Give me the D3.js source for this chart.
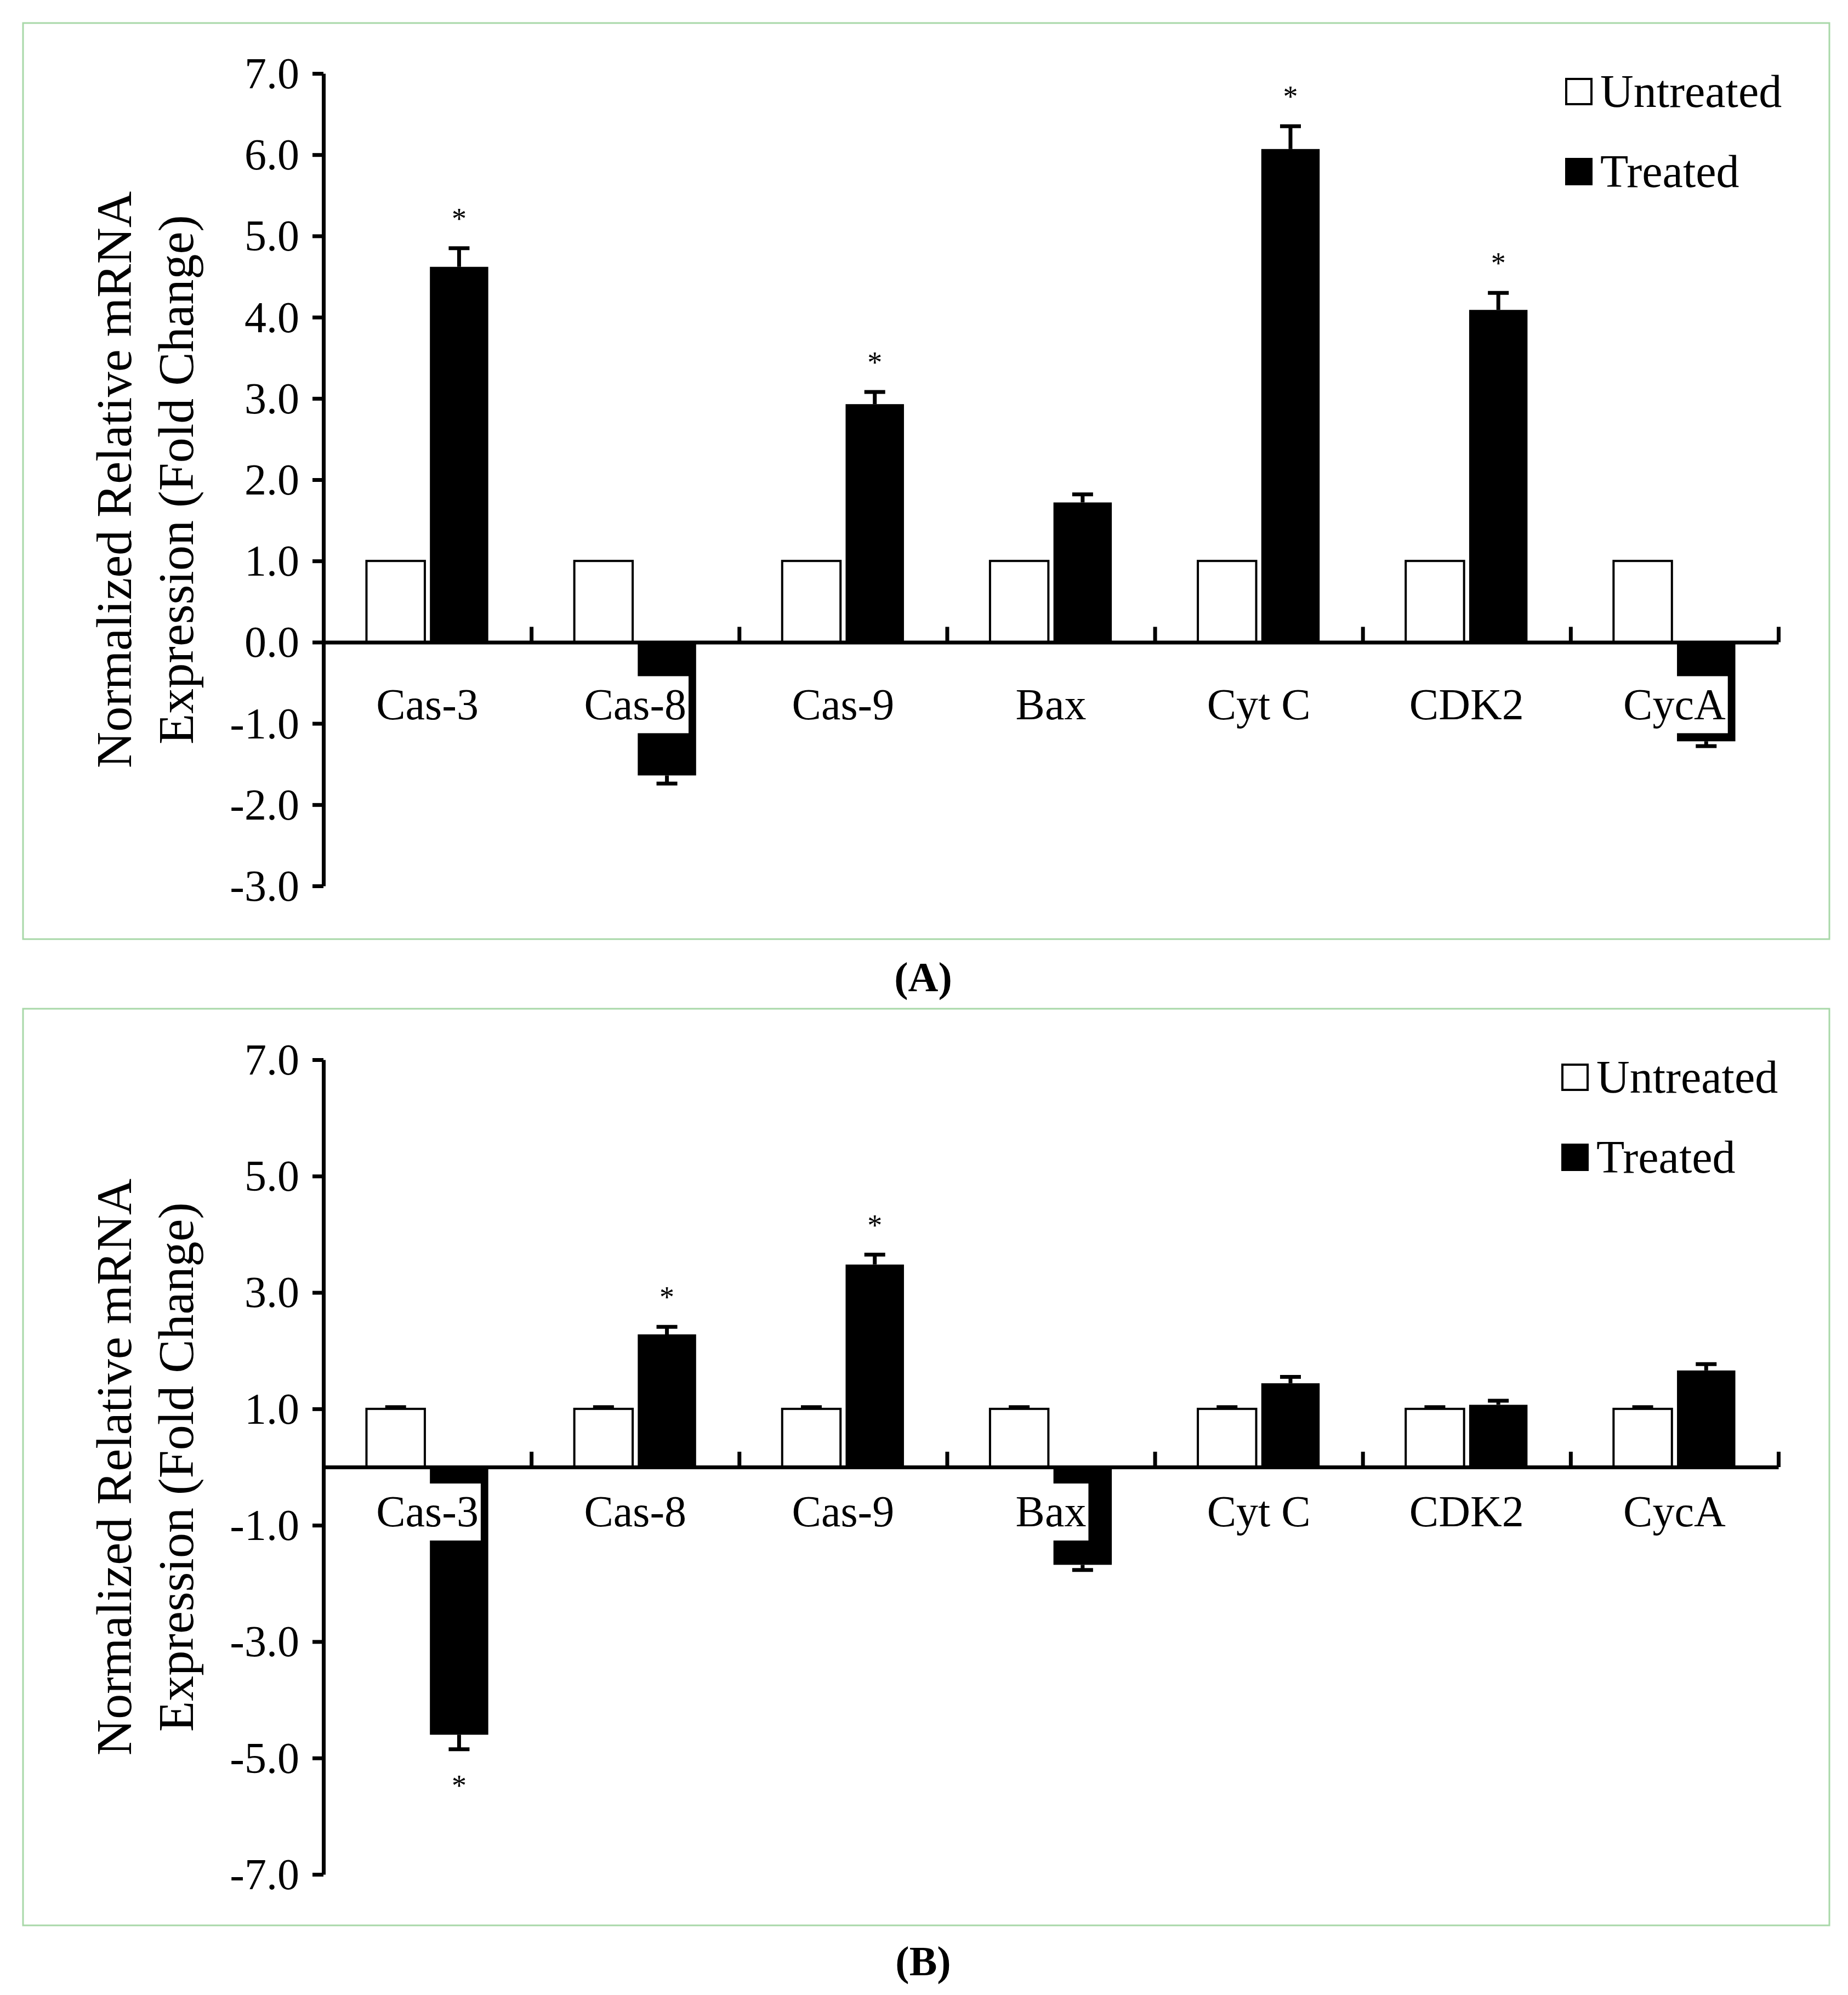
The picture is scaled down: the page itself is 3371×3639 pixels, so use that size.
<!DOCTYPE html>
<html>
<head>
<meta charset="utf-8">
<script src="https://cdn.jsdelivr.net/npm/d3@7"></script>
<style>
  body { margin: 0; background: #fff; }
  text { font-family: "Liberation Serif", "Times New Roman", serif; fill: #000; }
</style>
</head>
<body>
<div id="chart"></div>
<script>
var categories = ["Cas-3", "Cas-8", "Cas-9", "Bax", "Cyt C", "CDK2", "CycA"]
var series = ["Untreated", "Treated"]

// panel A
var untreatedA = [1, 1, 1, 1, 1, 1, 1]
var untreatedErrA = [0, 0, 0, 0, 0, 0, 0]
var treatedA = [4.62, -1.64, 2.93, 1.72, 6.07, 4.09, -1.22]
var treatedErrA = [0.23, 0.10, 0.15, 0.10, 0.28, 0.21, 0.06]
var starsA = [1, 0, 1, 0, 1, 1, 0]
var ticksA = [7, 6, 5, 4, 3, 2, 1, 0, -1, -2, -3]

// panel B
var untreatedB = [1, 1, 1, 1, 1, 1, 1]
var untreatedErrB = [0.03, 0.03, 0.03, 0.03, 0.03, 0.03, 0.03]
var treatedB = [-4.60, 2.28, 3.48, -1.68, 1.44, 1.07, 1.66]
var treatedErrB = [0.25, 0.13, 0.17, 0.09, 0.11, 0.07, 0.11]
var starsB = [1, 1, 1, 0, 0, 0, 0]
var ticksB = [7, 5, 3, 1, -1, -3, -5, -7]

var width = 3371
var height = 3639
var axis_w = 7
var label_size = 80
var x_left = 590
var x_right = 3244

var svg = d3.select("#chart").append("svg")
  .attr("width", width)
  .attr("height", height)
  .attr("viewBox", "0 0 " + width + " " + height)

svg.append("rect")
  .attr("width", width)
  .attr("height", height)
  .attr("fill", "#fff")

function drawPanel(p) {
  var g = svg.append("g")

  g.append("rect")
    .attr("x", 42)
    .attr("y", p.top)
    .attr("width", 3295)
    .attr("height", p.boxHeight)
    .attr("fill", "none")
    .attr("stroke", "#a8d8a8")
    .attr("stroke-width", 3)

  var x0 = d3.scaleBand()
    .domain(categories)
    .range([x_left, x_right])

  var bw = x0.bandwidth()
  var x1 = d3.scaleBand()
    .domain(series)
    .range([bw * 0.207, bw * 0.793])
    .paddingInner(0.08)

  var y = d3.scaleLinear()
    .domain(p.domain)
    .range(p.range)

  var rows = []
  for (var i = 0; i < categories.length; i++) {
    rows.push({cat: categories[i], s: "Untreated", v: p.untreated[i], e: p.untreatedErr[i], star: 0})
    rows.push({cat: categories[i], s: "Treated", v: p.treated[i], e: p.treatedErr[i], star: p.stars[i]})
  }

  g.append("g").selectAll("rect")
    .data(rows)
    .enter()
    .append("rect")
    .attr("x", function (d) { return x0(d.cat) + x1(d.s) })
    .attr("width", x1.bandwidth())
    .attr("y", function (d) { return Math.min(y(d.v), y(0)) })
    .attr("height", function (d) { return Math.abs(y(d.v) - y(0)) })
    .attr("fill", function (d) { return d.s == "Treated" ? "#000" : "#fff" })
    .attr("stroke", function (d) { return d.s == "Treated" ? "none" : "#000" })
    .attr("stroke-width", 4)

  var errs = rows.filter(function (d) { return d.e > 0 })
  var eg = g.append("g")
    .attr("stroke", "#000")
    .attr("stroke-width", axis_w)

  eg.selectAll(".err-line")
    .data(errs)
    .enter()
    .append("line")
    .attr("x1", function (d) { return x0(d.cat) + x1(d.s) + x1.bandwidth() / 2 })
    .attr("x2", function (d) { return x0(d.cat) + x1(d.s) + x1.bandwidth() / 2 })
    .attr("y1", function (d) { return y(d.v) })
    .attr("y2", function (d) { return y(d.v + (d.v < 0 ? -d.e : d.e)) })

  eg.selectAll(".err-cap")
    .data(errs)
    .enter()
    .append("line")
    .attr("x1", function (d) { return x0(d.cat) + x1(d.s) + x1.bandwidth() / 2 - 19 })
    .attr("x2", function (d) { return x0(d.cat) + x1(d.s) + x1.bandwidth() / 2 + 19 })
    .attr("y1", function (d) { return y(d.v + (d.v < 0 ? -d.e : d.e)) })
    .attr("y2", function (d) { return y(d.v + (d.v < 0 ? -d.e : d.e)) })

  // y axis
  var yAxis = g.append("g")
    .attr("transform", "translate(" + x_left + ",0)")
    .call(d3.axisLeft(y)
      .tickValues(p.ticks)
      .tickSize(20)
      .tickSizeOuter(0)
      .tickPadding(24)
      .tickFormat(function (d) { return d.toFixed(1) }))

  yAxis.selectAll("path, line")
    .attr("stroke", "#000")
    .attr("stroke-width", axis_w)
  yAxis.selectAll("text")
    .attr("font-family", "Liberation Serif")
    .attr("font-size", label_size)
    .attr("dy", "0.33em")
    .attr("fill", "#000")

  // x axis, ticks between categories
  var xb = d3.scaleLinear()
    .domain([0, categories.length])
    .range([x_left, x_right])

  var xAxis = g.append("g")
    .attr("transform", "translate(0," + y(0) + ")")
    .call(d3.axisTop(xb)
      .tickValues(d3.range(1, categories.length + 1))
      .tickSize(28)
      .tickSizeOuter(0)
      .tickFormat(""))

  xAxis.selectAll("path, line")
    .attr("stroke", "#000")
    .attr("stroke-width", axis_w)

  // category labels on a white box
  var labels = g.append("g").selectAll("g")
    .data(categories)
    .enter()
    .append("g")

  var texts = labels.append("text")
    .attr("x", function (d) { return x0(d) + bw / 2 })
    .attr("y", y(0) + p.labelMid + label_size * 0.33)
    .attr("text-anchor", "middle")
    .attr("font-size", label_size)
    .text(function (d) { return d })

  texts.each(function () {
    var w = this.getComputedTextLength()
    var t = d3.select(this)
    d3.select(this.parentNode).insert("rect", "text")
      .attr("x", +t.attr("x") - w / 2 - 4)
      .attr("y", y(0) + p.labelMid - 52)
      .attr("width", w + 8)
      .attr("height", 104)
      .attr("fill", "#fff")
  })

  // stars
  g.append("g").selectAll("text")
    .data(rows.filter(function (d) { return d.star }))
    .enter()
    .append("text")
    .attr("x", function (d) { return x0(d.cat) + x1(d.s) + x1.bandwidth() / 2 })
    .attr("y", function (d) {
      var end = y(d.v + (d.v < 0 ? -d.e : d.e))
      return d.v < 0 ? end + 58 + 26 : end - 62 + 26
    })
    .attr("text-anchor", "middle")
    .attr("font-size", 54)
    .text("*")

  // legend
  var leg = g.append("g").selectAll("g")
    .data(series)
    .enter()
    .append("g")
    .attr("transform", function (d, i) { return "translate(" + p.legendX + "," + (p.top + 125 + i * 146) + ")" })

  leg.append("rect")
    .attr("x", 0)
    .attr("y", -23)
    .attr("width", 46)
    .attr("height", 46)
    .attr("fill", function (d) { return d == "Treated" ? "#000" : "#fff" })
    .attr("stroke", "#000")
    .attr("stroke-width", 4)

  leg.append("text")
    .attr("x", 62)
    .attr("y", 28)
    .attr("font-size", 84)
    .text(function (d) { return d })

  // y axis title
  var midY = (p.range[0] + p.range[1]) / 2
  g.append("text")
    .attr("transform", "translate(239," + midY + ") rotate(-90)")
    .attr("text-anchor", "middle")
    .attr("font-size", 92)
    .text("Normalized Relative mRNA")
  g.append("text")
    .attr("transform", "translate(352," + midY + ") rotate(-90)")
    .attr("text-anchor", "middle")
    .attr("font-size", 92)
    .text("Expression (Fold Change)")

  g.append("text")
    .attr("x", 1684)
    .attr("y", p.letterY)
    .attr("text-anchor", "middle")
    .attr("font-size", 76)
    .attr("font-weight", "bold")
    .text(p.letter)
}

drawPanel({
  top: 42, boxHeight: 1671,
  domain: [-3, 7], range: [1616, 134], ticks: ticksA,
  untreated: untreatedA, untreatedErr: untreatedErrA,
  treated: treatedA, treatedErr: treatedErrA, stars: starsA,
  labelMid: 114, legendX: 2857, letter: "(A)", letterY: 1808
})

drawPanel({
  top: 1840, boxHeight: 1672,
  domain: [-7, 7], range: [3419, 1933], ticks: ticksB,
  untreated: untreatedB, untreatedErr: untreatedErrB,
  treated: treatedB, treatedErr: treatedErrB, stars: starsB,
  labelMid: 82, legendX: 2850, letter: "(B)", letterY: 3603
})
</script>
</body>
</html>
